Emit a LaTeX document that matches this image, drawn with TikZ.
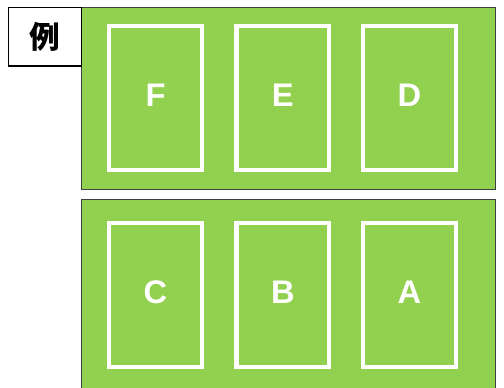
\documentclass[tikz,border=0pt]{standalone}
\usepackage{fontspec}
\setmainfont{Liberation Sans}
\newfontfamily\cjk{Noto Sans CJK JP}
\definecolor{lawngreen}{RGB}{146,208,80}
\definecolor{rimgray}{RGB}{64,64,64}
\tikzset{every picture/.style={line width=0.75pt}}

\begin{document}
\begin{tikzpicture}[x=0.75pt,y=0.75pt,yscale=-1,xscale=1,
  field/.style={draw=rimgray,fill=lawngreen,line width=0.9pt},
  card/.style={draw=white,line width=3.2pt,minimum width=69.4pt,minimum height=108pt,inner sep=0pt},
  cardtext/.style={text=white,font=\fontsize{24.5}{28}\selectfont\bfseries,inner sep=0pt}]
\useasboundingbox (0,0) rectangle (504,388);

%Shape: Rectangle [id:field top]
\draw [field] (81.5,7.3) rectangle (495.5,189.3) ;
%Shape: Rectangle [id:field bottom]
\draw [field] (81.5,199.3) rectangle (495.5,400) ;

%Shape: Rectangle [id:label]
\node [draw=black,fill=white,line width=1pt,minimum width=54.9pt,minimum height=44pt,inner sep=0pt,
  font=\cjk\bfseries\fontsize{23}{26}\selectfont] (rei) at (44.9,36.6) {例};

% Cards, top row
\node [card] (cardF) at (155.5,98.3) {};
\node [card] (cardE) at (282.8,98.3) {};
\node [card] (cardD) at (409.4,98.3) {};
% Cards, bottom row
\node [card] (cardC) at (155.5,295.2) {};
\node [card] (cardB) at (282.8,295.2) {};
\node [card] (cardA) at (409.4,295.2) {};

% Text Node
\foreach \c in {F,E,D,C,B,A}
  \node [cardtext] (txt\c) at ([yshift=-2.4pt]card\c.center) {\c};

\end{tikzpicture}
\end{document}
